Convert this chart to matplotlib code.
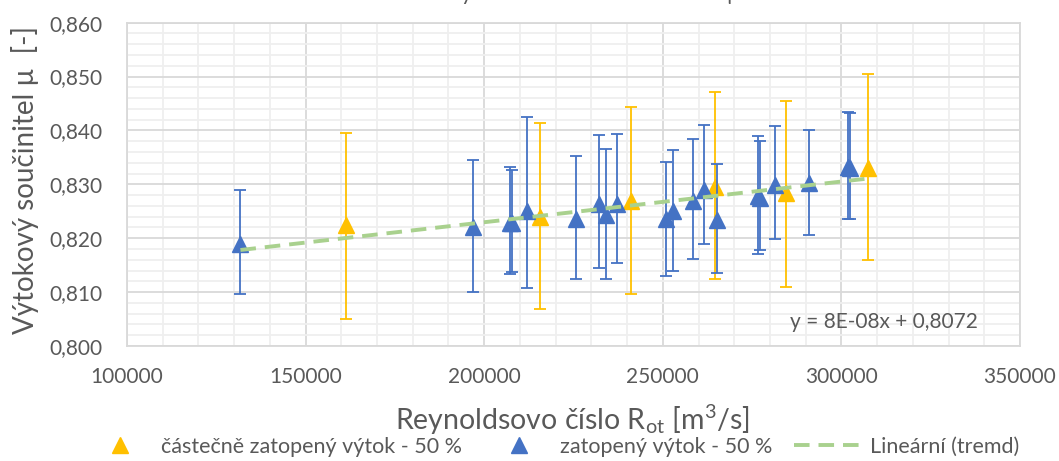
import numpy as np
import matplotlib
matplotlib.use("Agg")
import matplotlib.pyplot as plt
from matplotlib.lines import Line2D
from matplotlib.ticker import FuncFormatter, MultipleLocator

plt.rcParams['font.family'] = ['Lato', 'DejaVu Sans']
plt.rcParams['mathtext.fontset'] = 'custom'
plt.rcParams['mathtext.rm'] = 'Lato'
plt.rcParams['mathtext.it'] = 'Lato:italic'

# ---------------- data ----------------
# zatopený výtok - 50 %  (blue)
blue_x = [131760, 196930, 207260, 207680, 212100, 225610, 232120, 234160, 237070,
          251030, 252790, 258460, 261530, 265170, 276540, 277100, 281480, 290980,
          301960, 302370]
blue_y = [0.8190, 0.8220, 0.8229, 0.8229, 0.8250, 0.8236, 0.8264, 0.8243, 0.8264,
          0.8235, 0.8250, 0.8269, 0.8290, 0.8233, 0.8278, 0.8275, 0.8298, 0.8303,
          0.8332, 0.8331]
blue_hi = [0.8289, 0.8346, 0.8333, 0.8327, 0.8425, 0.8352, 0.8391, 0.8366, 0.8394,
           0.8342, 0.8364, 0.8385, 0.8411, 0.8338, 0.8390, 0.8381, 0.8409, 0.8400,
           0.8435, 0.8433]
blue_lo = [0.8096, 0.8100, 0.8133, 0.8138, 0.8107, 0.8125, 0.8144, 0.8124, 0.8154,
           0.8129, 0.8139, 0.8161, 0.8189, 0.8135, 0.8171, 0.8179, 0.8199, 0.8206,
           0.8235, 0.8236]

# částečně zatopený výtok - 50 %  (yellow)
yel_x = [161370, 215640, 240970, 264720, 284440, 307350]
yel_y = [0.8224, 0.8240, 0.8269, 0.8296, 0.8284, 0.8330]
yel_hi = [0.8396, 0.8414, 0.8443, 0.8471, 0.8454, 0.8504]
yel_lo = [0.8051, 0.8068, 0.8097, 0.8125, 0.8109, 0.8159]

x_ticks = [100000, 150000, 200000, 250000, 300000, 350000]
y_ticks = [0.800, 0.810, 0.820, 0.830, 0.840, 0.850, 0.860]

BLUE = '#4472C4'
YELLOW = '#FFC000'
GREEN = '#A9D18E'
TXT = '#595959'
DASH = (0, (4.0, 2.3))

W, H = 1059, 461
fig = plt.figure(figsize=(W / 100, H / 100), dpi=100)
L, R, T, B = 127, 1020, 22.7, 346
ax = fig.add_axes([L / W, 1 - B / H, (R - L) / W, (B - T) / H])

bx = np.array(blue_x); by = np.array(blue_y)
yx = np.array(yel_x); yy = np.array(yel_y)

ax.errorbar(yx, yy, yerr=[yy - np.array(yel_lo), np.array(yel_hi) - yy], fmt='^',
            color=YELLOW, ms=11, elinewidth=1.3, capsize=4.5, capthick=1.3, zorder=3)
ax.errorbar(bx, by, yerr=[by - np.array(blue_lo), np.array(blue_hi) - by], fmt='^',
            color=BLUE, ms=11, elinewidth=1.3, capsize=4.5, capthick=1.3, zorder=4)

# linear trend over all points
all_x = np.concatenate([bx, yx]); all_y = np.concatenate([by, yy])
k, q = np.polyfit(all_x, all_y, 1)
tx = np.array([all_x.min(), all_x.max()])
ax.plot(tx, k * tx + q, color=GREEN, lw=2.8, ls=DASH, zorder=5,
        dash_capstyle='butt')

ax.set_xlim(100000, 350000)
ax.set_ylim(0.800, 0.860)
ax.set_xticks(x_ticks)
ax.set_yticks(y_ticks)
ax.xaxis.set_minor_locator(MultipleLocator(10000))
ax.yaxis.set_minor_locator(MultipleLocator(0.002))
ax.xaxis.set_major_formatter(FuncFormatter(lambda v, p: f"{int(round(v))}"))
ax.yaxis.set_major_formatter(FuncFormatter(lambda v, p: f"{v:.3f}".replace('.', ',')))
ax.grid(which='minor', color='#EFEFEF', lw=1.3, zorder=0)
ax.grid(which='major', color='#D9D9D9', lw=1.3, zorder=0)
ax.set_axisbelow(True)
for s in ax.spines.values():
    s.set_color('#D9D9D9')
    s.set_linewidth(1.3)
ax.tick_params(which='both', length=0)
ax.tick_params(axis='x', pad=15, labelsize=15, labelcolor=TXT)
ax.tick_params(axis='y', pad=18, labelsize=15, labelcolor=TXT)

fig.text(25 / W, 1 - 180 / H, "Výtokový součinitel µ  [-]", rotation=90,
         ha='center', va='center', fontsize=20, color=TXT)
fig.text(572 / W, 1 - 420 / H, r"Reynoldsovo číslo R$_{\mathrm{ot}}$ [m$^{3}$/s]",
         ha='center', va='center', fontsize=20.5, color=TXT)

fig.text(884 / W, 1 - 322 / H, "y = 8E-08x + 0,8072", ha='center', va='center',
         fontsize=15, color=TXT)

# title (mostly cut off by the top edge, as in the reference)
fig.canvas.draw()
rend = fig.canvas.get_renderer()
probe_a = fig.text(0, 0, "Re", fontsize=20)
probe_b = fig.text(0, 0, "Reynoldsovo číslo a součinitel ", fontsize=20)
wa = probe_a.get_window_extent(rend).width
wb = probe_b.get_window_extent(rend).width
probe_a.remove(); probe_b.remove()
tsize = 20 * 266 / (wb - wa)
wpre = wa * tsize / 20
fig.text((462 - wpre - 1) / W, 1 + 0.5 / H, "Reynoldsovo číslo a součinitel µ",
         ha='left', va='baseline', fontsize=tsize, color=TXT)

handles = [
    Line2D([], [], marker='^', ls='none', color=YELLOW, ms=12),
    Line2D([], [], marker='^', ls='none', color=BLUE, ms=12),
    Line2D([], [], color=GREEN, lw=2.8, ls=DASH),
]
labels = ["částečně zatopený výtok - 50 %", "zatopený výtok - 50 %", "Lineární (tremd)"]
leg = fig.legend(handles, labels, loc='center', bbox_to_anchor=(552 / W, 1 - 447 / H),
                 ncol=3, frameon=False, fontsize=15.5, handlelength=3.3,
                 handletextpad=0.25, columnspacing=1.0, borderpad=0)
for t in leg.get_texts():
    t.set_color(TXT)

fig.savefig("out.png", dpi=100)
